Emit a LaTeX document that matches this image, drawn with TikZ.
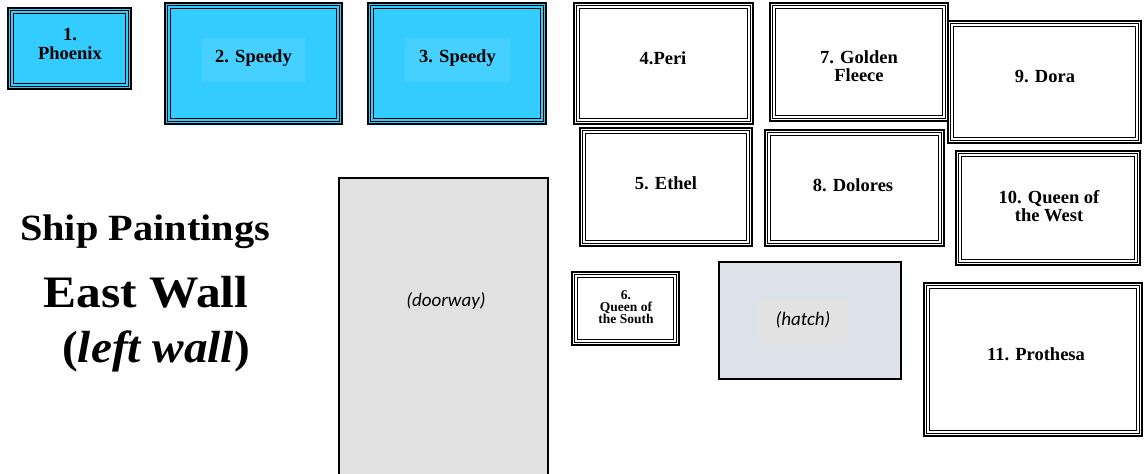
\documentclass[tikz,border=0pt]{standalone}
\usepackage{fontspec}
\usepackage{graphicx}
\setmainfont{Liberation Serif}
\newfontfamily\carl{Carlito}
\definecolor{sky}{HTML}{33CCFF}
\definecolor{skylt}{HTML}{45D0FF}
\definecolor{doorgray}{HTML}{E1E1E1}
\definecolor{hatchfill}{HTML}{DDE1EA}
\definecolor{hatchlbl}{HTML}{E2E2E2}
\tikzset{
  pframe/.style={draw=black, line width=2.6pt, inner sep=0pt, fill=white},
  pline/.style={draw=black, line width=1pt},
  lbl/.style={font=\bfseries\fontsize{18.5}{18.5}\selectfont, align=center, inner sep=0pt},
  smalllbl/.style={font=\bfseries\fontsize{13.5}{11.8}\selectfont, align=center, inner sep=0pt},
  ttl/.style={font=\bfseries, inner sep=0pt, anchor=base},
  opening/.style={draw=black, line width=2.4pt, inner sep=0pt},
  itlbl/.style={font=\carl\itshape\fontsize{19}{19}\selectfont, inner sep=0pt},
}
\newcommand\paint[6]{%
  \node[pframe, fill=#6, minimum width={#4-#2}, minimum height={#5-#3}] (#1) at ({(#2+#4)/2},{(#3+#5)/2}) {};
  \draw[pline] ([shift={(4,4)}]#1.north west) rectangle ([shift={(-4,-4)}]#1.south east);
  \draw[pline] ([shift={(6.8,6.8)}]#1.north west) rectangle ([shift={(-6.8,-6.8)}]#1.south east);
}
\begin{document}
\begin{tikzpicture}[x=1pt,y=-1pt]
\useasboundingbox (0,0) rectangle (1144,474);
% title
\node[ttl, font=\bfseries\fontsize{37}{37}\selectfont] (t1) at (145,240) {\scalebox{1.09}[1]{Ship Paintings}};
\node[ttl, font=\bfseries\fontsize{45}{45}\selectfont] (t2) at (146,307) {\scalebox{1.1}[1]{East Wall}};
\node[ttl, font=\bfseries\fontsize{45}{45}\selectfont] (t3) at (156,362) {\scalebox{1.05}[1]{(\textit{left wall})}};
% doorway and hatch
\node[opening, fill=doorgray, minimum width=209, minimum height=300, anchor=north west] (door) at (338,177) {};
\node[itlbl] (doorlbl) at (446,301) {(doorway)};
\node[opening, fill=hatchfill, minimum width=182, minimum height=117, anchor=north west] (hatch) at (718,261) {};
\node[fill=hatchlbl, minimum width=90, minimum height=43, inner sep=0pt] (hatchbg) at (803,321.5) {};
\node[itlbl] (hatchlbl) at (803,320) {(hatch)};
% paintings
\paint{p1}{8}{8}{131}{89}{sky}
\node[lbl] (l1) at (70,44) {1.\\Phoenix};
\paint{p2}{165}{3}{342}{124}{sky}
\node[fill=skylt, minimum width=103, minimum height=44, inner sep=0pt] (b2) at (253.5,60) {};
\node[lbl] (l2) at (253.5,58) {2. Speedy};
\paint{p3}{368}{3}{546}{124}{sky}
\node[fill=skylt, minimum width=105, minimum height=44, inner sep=0pt] (b3) at (457.5,60) {};
\node[lbl] (l3) at (457.5,58) {3. Speedy};
\paint{p4}{574}{3}{753}{124}{white}
\node[lbl] (l4) at (663,58) {4.Peri};
\paint{p5}{580}{128}{752}{246}{white}
\node[lbl] (l5) at (666,183) {5. Ethel};
\paint{p6}{572}{272}{679}{345}{white}
\node[smalllbl] (l6) at (626,307) {6.\\Queen of\\the South};
\paint{p7}{770}{3}{948}{121}{white}
\node[lbl] (l7) at (859,66) {7. Golden\\Fleece};
\paint{p8}{765}{130}{944}{246}{white}
\node[lbl] (l8) at (853,185) {8. Dolores};
\paint{p9}{948}{21}{1141}{143}{white}
\node[lbl] (l9) at (1045,77) {9. Dora};
\paint{p10}{956}{151}{1140}{265}{white}
\node[lbl] (l10) at (1049,206) {10. Queen of\\the West};
\paint{p11}{924}{283}{1142}{436}{white}
\node[lbl] (l11) at (1036,354) {11. Prothesa};
\end{tikzpicture}
\end{document}
